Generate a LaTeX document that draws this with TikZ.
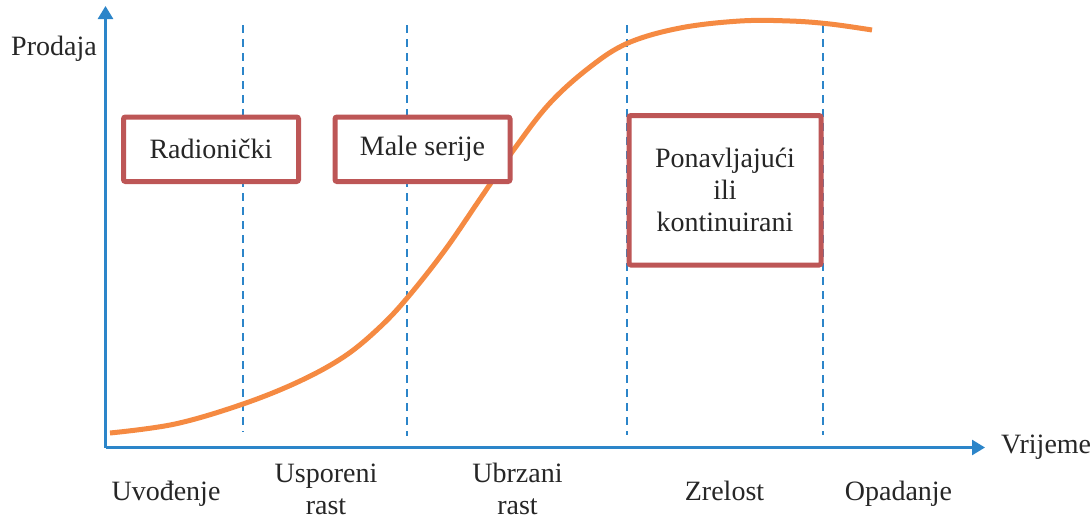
\documentclass[tikz,border=0pt]{standalone}
\usepackage{fontspec}
\setmainfont{Liberation Serif}
\usetikzlibrary{arrows.meta}

\definecolor{axisblue}{RGB}{44,133,201}
\definecolor{boxred}{RGB}{189,86,86}
\definecolor{curveorange}{RGB}{245,138,66}
\definecolor{textgray}{RGB}{38,38,38}

\tikzset{
  axisline/.style={axisblue, line width=1.3pt, -{Triangle[length=6.5pt,width=7.5pt]}},
  divider/.style={axisblue, line width=0.8pt, dash pattern=on 4pt off 3pt},
  stagebox/.style={draw=boxred, fill=white, line width=2.5pt, rounded corners=1pt,
    align=center, inner sep=0pt, text=textgray},
  phase/.style={align=center, text=textgray, anchor=base},
}

\begin{document}
\begin{tikzpicture}[x=0.5pt, y=-0.5pt, font=\fontsize{14}{16}\selectfont]
  \useasboundingbox (0,0) rectangle (1092,520);

  \coordinate (origin) at (105.5,447.5);
  \coordinate (ytop) at (105.5,6);
  \coordinate (xend) at (985,447.5);

  \foreach \x/\b [count=\i] in {243/432, 407/436, 627/435, 823/435} {
    \coordinate (d\i top) at (\x,25);
    \coordinate (d\i bot) at (\x,\b);
    \draw[divider] (d\i top) -- (d\i bot);
  }

  \draw[curveorange, line width=2.5pt] plot[smooth, tension=0.6] coordinates {
    (110,433) (175,424) (243,404) (300,381) (345,356) (380,327) (408,297)
    (445,250) (480,199) (515,148) (550,103) (590,67) (628,43) (680,28)
    (740,21) (790,21) (830,24) (872,30)};

  \draw[axisline] (origin) -- (ytop);
  \draw[axisline] (origin) -- (xend);

  \node[stagebox, minimum width=87.5pt, minimum height=32.25pt] (radionicki) at (211,149.25) {Radionički};
  \node[stagebox, minimum width=87.5pt, minimum height=32.25pt] (maleserije) at (422.5,149.25) {Male serije};
  \node[stagebox, minimum width=96pt, minimum height=74.75pt] (ponavljajuci) at (725,190.25)
    {Ponavljajući\\ili\\kontinuirani};

  \node[phase] (prodaja) at (54,55) {Prodaja};
  \node[phase, anchor=base west] (vrijeme) at (994,453) {Vrijeme};

  \node[phase] (uvodenje) at (166,500) {Uvođenje};
  \node[phase] (usporeni) at (326,514) {Usporeni\\rast};
  \node[phase] (ubrzani) at (517.5,514) {Ubrzani\\rast};
  \node[phase] (zrelost) at (724.5,500) {Zrelost};
  \node[phase] (opadanje) at (898.5,500) {Opadanje};
\end{tikzpicture}
\end{document}
